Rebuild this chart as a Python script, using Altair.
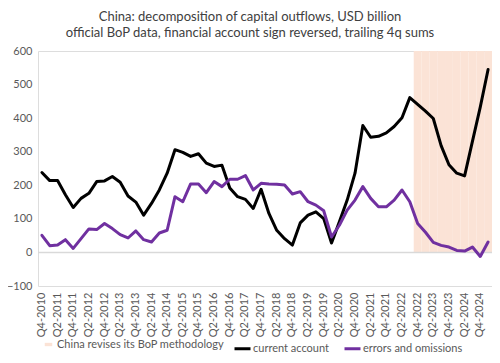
import altair as alt
import pandas as pd

quarters = [f"Q{(i + 3) % 4 + 1}-{2010 + (i + 3) // 4}" for i in range(58)]

current_account = [238, 214, 214, 172, 134, 161, 176, 211, 213, 226,
                   209, 168, 150, 111, 146, 186, 236, 306, 298, 286,
                   294, 266, 256, 260, 192, 166, 158, 131, 188, 116,
                   66, 41, 22, 88, 111, 121, 101, 28, 91, 156,
                   236, 378, 343, 346, 356, 375, 401, 461, 441, 421,
                   399, 318, 261, 236, 228, 331, 433, 545]

errors_omissions = [51, 20, 22, 38, 12, 41, 70, 68, 86, 71,
                    53, 43, 64, 38, 31, 58, 66, 166, 151, 204,
                    204, 178, 211, 196, 218, 218, 229, 186, 206, 204,
                    203, 201, 174, 181, 151, 141, 124, 46, 81, 126,
                    156, 196, 161, 136, 136, 156, 186, 151, 86, 60,
                    30, 21, 16, 6, 4, 16, -12, 31]

revision_label = "China revises its BoP methodology"
revision_quarters = quarters[48:]
revision_value = [600] * len(revision_quarters)

series_names = ["current account", "errors and omissions"]
series_colors = ["#000000", "#7030A0"]

y_ticks = [-100, 0, 100, 200, 300, 400, 500, 600]
x_tick_labels = [q for q in quarters if q.startswith("Q4") or q.startswith("Q2")]

FONT = "Lato"
GRAY = "#595959"

lines_df = pd.DataFrame({
    "quarter": quarters * 2,
    "series": [series_names[0]] * len(quarters) + [series_names[1]] * len(quarters),
    "value": current_account + errors_omissions,
})
shade_df = pd.DataFrame({
    "quarter": revision_quarters,
    "value": revision_value,
    "label": [revision_label] * len(revision_quarters),
})
zero_df = pd.DataFrame({"value": [0]})

x_scale = alt.Scale(type="band", domain=quarters, paddingInner=0, paddingOuter=0)
y_scale = alt.Scale(domain=[-100, 600], nice=False, zero=False)

x_axis = alt.Axis(values=x_tick_labels, labelAngle=270, labelFontSize=11, labelColor=GRAY,
                  labelFont=FONT, domain=False, ticks=False, labelPadding=6, title=None,
                  grid=False)
y_axis = alt.Axis(values=y_ticks, labelFontSize=11, labelColor=GRAY, labelFont=FONT,
                  domain=False, ticks=False, grid=False, labelPadding=6, title=None)

shade = alt.Chart(shade_df).mark_bar(opacity=1).encode(
    x=alt.X("quarter:N", scale=x_scale, axis=x_axis, sort=quarters),
    y=alt.Y("value:Q", scale=y_scale, axis=y_axis),
    y2=alt.datum(0),
    fill=alt.Fill("label:N", scale=alt.Scale(domain=[revision_label], range=["#FBE3D6"]),
                  legend=alt.Legend(title=None, orient="none", legendX=5, legendY=288,
                                    symbolType="M-1,-0.45H1V0.45H-1Z", symbolSize=56,
                                    symbolStrokeWidth=0, labelLimit=400,
                                    labelFont=FONT, labelFontSize=11, labelColor=GRAY,
                                    labelOffset=3)),
)

zero = alt.Chart(zero_df).mark_rule(color="#D9D9D9", strokeWidth=1.5).encode(
    y=alt.Y("value:Q", scale=y_scale, axis=y_axis)
)

lines = alt.Chart(lines_df).mark_line(strokeWidth=3, strokeJoin="round", strokeCap="round").encode(
    x=alt.X("quarter:N", scale=x_scale, axis=x_axis, sort=quarters),
    y=alt.Y("value:Q", scale=y_scale, axis=y_axis),
    stroke=alt.Stroke("series:N", scale=alt.Scale(domain=series_names, range=series_colors),
                      legend=alt.Legend(title=None, orient="none", legendX=195, legendY=288,
                                        direction="horizontal", symbolType="stroke",
                                        symbolSize=256, symbolStrokeWidth=3, labelLimit=400,
                                        labelFont=FONT, labelFontSize=11, labelColor=GRAY,
                                        labelOffset=1, columnPadding=9)),
)

chart = alt.layer(shade, zero, lines).properties(
    width=454,
    height=235,
    padding={"left": 30, "top": 43, "right": 0, "bottom": 69},
    autosize=alt.AutoSizeParams(type="none"),
    title=alt.Title(
        text=["China: decomposition of capital outflows, USD billion",
              "official BoP data, financial account sign reversed, trailing 4q sums"],
        anchor="middle", font=FONT, fontSize=13, fontWeight="normal", color="#404040",
        lineHeight=16, offset=5, dx=-15,
    ),
).configure_view(stroke=None).configure(background="white")

chart.save("out.html", embed_options={"renderer": "svg", "actions": False})
